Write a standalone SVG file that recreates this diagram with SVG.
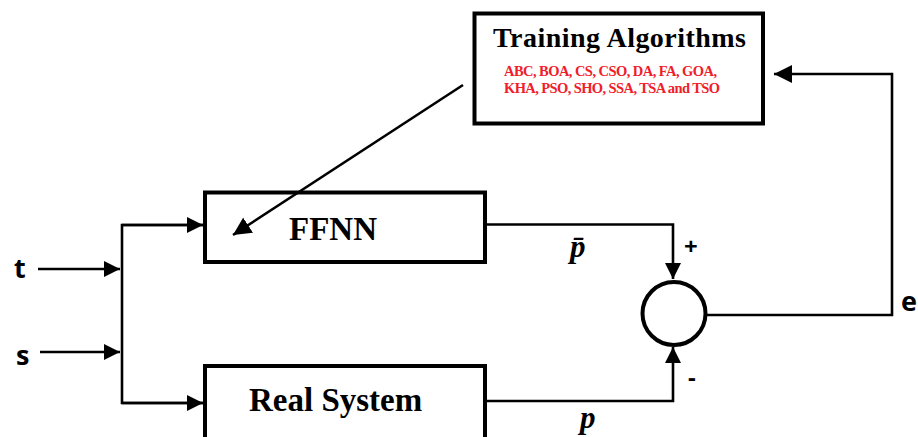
<svg xmlns="http://www.w3.org/2000/svg" width="918" height="437" viewBox="0 0 918 437">
<style>
.box{fill:#fff;stroke:#000;stroke-width:4}
.ln{fill:none;stroke:#000;stroke-width:2.6}
.big{font-family:"Liberation Serif",serif;font-weight:bold;font-size:33px;fill:#000}
.title{font-family:"Liberation Serif",serif;font-weight:bold;font-size:28px;fill:#000}
.red{font-family:"Liberation Serif",serif;font-weight:bold;font-size:14.5px;fill:#f0202a}
.lab{font-family:"Open Sans","DejaVu Sans",sans-serif;font-weight:700;font-size:27px;fill:#000}
.math{font-family:"Liberation Serif",serif;font-weight:bold;font-style:italic;font-size:31px;fill:#000}
.sign{font-family:"Open Sans","DejaVu Sans",sans-serif;font-weight:700;font-size:24px;fill:#000}
</style>
<defs>
<marker id="ah" viewBox="0 0 10 10" refX="10" refY="5" markerWidth="16" markerHeight="16" markerUnits="userSpaceOnUse" orient="auto">
<path d="M0,0 L10,5 L0,10 z" fill="#000"/>
</marker>
<marker id="ah2" viewBox="0 0 10 10" refX="10" refY="5" markerWidth="18" markerHeight="18" markerUnits="userSpaceOnUse" orient="auto">
<path d="M0,0 L10,5 L0,10 z" fill="#000"/>
</marker>
</defs>
<rect width="918" height="437" fill="#fff"/>
<g id="training">
<rect class="box" x="474.5" y="13.5" width="288.5" height="110" stroke-width="5"/>
<text class="title" x="493" y="47" textLength="253">Training Algorithms</text>
<text class="red" x="504" y="76" textLength="213">ABC, BOA, CS, CSO, DA, FA, GOA,</text>
<text class="red" x="504" y="93" textLength="216">KHA, PSO, SHO, SSA, TSA and TSO</text>
</g>
<g id="ffnn">
<rect class="box" x="205" y="192.5" width="280" height="69.5"/>
<text class="big" x="289" y="240">FFNN</text>
</g>
<g id="real-system">
<rect class="box" x="205" y="366" width="280" height="80"/>
<text class="big" x="249" y="411">Real System</text>
</g>
<g id="sum">
<circle cx="674" cy="313.5" r="31.5" fill="#fff" stroke="#000" stroke-width="4"/>
<text class="sign" x="684" y="255">+</text>
<text class="sign" x="688" y="386">-</text>
</g>
<g id="labels">
<text class="lab" x="14" y="278">t</text>
<text class="lab" x="16" y="365">s</text>
<text class="lab" x="901" y="311">e</text>
<text class="math" x="570" y="257">p̄</text>
<text class="math" x="580" y="428">p</text>
</g>
<g id="connectors">
<line class="ln" x1="38" y1="269" x2="120" y2="269" marker-end="url(#ah)"/>
<line class="ln" x1="40" y1="352" x2="120" y2="352" marker-end="url(#ah)"/>
<polyline class="ln" points="203,225 122,225 122,403 203,403"/>
<line class="ln" x1="122" y1="225" x2="203" y2="225" marker-end="url(#ah)"/>
<line class="ln" x1="122" y1="403" x2="203" y2="403" marker-end="url(#ah)"/>
<polyline class="ln" points="487,224.5 673,224.5 673,279" marker-end="url(#ah)"/>
<polyline class="ln" points="487,401 673,401 673,347" marker-end="url(#ah)"/>
<polyline class="ln" points="706,315 892,315 892,74 774,74" marker-end="url(#ah2)"/>
<line class="ln" x1="463" y1="85" x2="233" y2="235" marker-end="url(#ah2)"/>
</g>
</svg>
